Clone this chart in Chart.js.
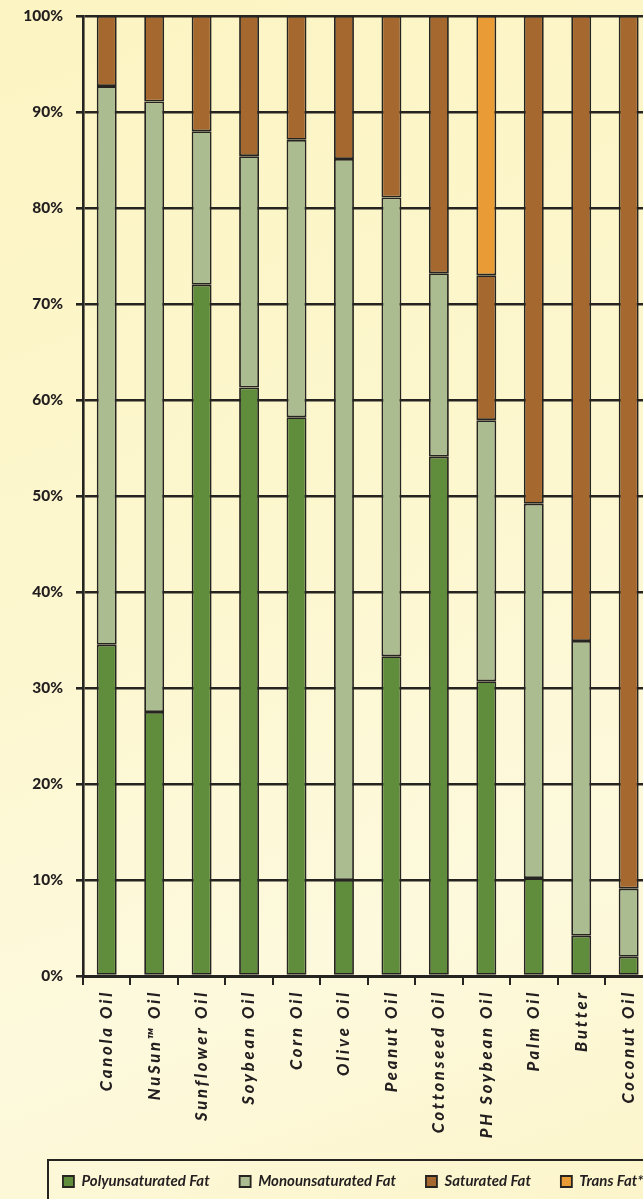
<!DOCTYPE html>
<html>
<head>
<meta charset="utf-8">
<script src="https://cdn.jsdelivr.net/npm/chart.js@4"></script>
<style>
  html, body {
    margin: 0;
    padding: 0;
    width: 643px;
    height: 1199px;
    overflow: hidden;
    background: linear-gradient(160deg, #fcf4c2 0%, #fdf7cf 45%, #fdf9dd 75%, #fcf5cb 100%);
  }
  canvas { display: block; }
</style>
</head>
<body>
<canvas id="fatChart" width="706" height="1199"></canvas>
<script>
// categories and series (percent of total fat)
const oils = ["Canola Oil", "NuSun™ Oil", "Sunflower Oil", "Soybean Oil", "Corn Oil", "Olive Oil",
              "Peanut Oil", "Cottonseed Oil", "PH Soybean Oil", "Palm Oil", "Butter", "Coconut Oil"];
const polyFat  = [34.5, 27.5, 72.0, 61.3, 58.2, 10.0, 33.3, 54.1, 30.7, 10.2, 4.2, 2.0];
const monoFat  = [58.2, 63.6, 16.0, 24.1, 28.9, 75.1, 47.8, 19.1, 27.2, 39.0, 30.7, 7.1];
const satFat   = [7.3, 8.9, 12.0, 14.6, 12.9, 14.9, 18.9, 26.8, 15.1, 50.8, 65.1, 90.9];
const transFat = [null, null, null, null, null, null, null, null, 27.0, null, null, null];
const yTickStep = 10;

const ink = "#262420";
const W = 706;
const plotLeft = 83;
const categoryWidth = 47.45;

// letter spacing only for the category labels
const spacedLabels = {
    id: "spacedLabels",
    beforeDraw(chart) {
        const sx = chart.scales.x;
        if (!sx._spaced) {
            const orig = sx.drawLabels;
            sx.drawLabels = function (area) {
                chart.ctx.letterSpacing = "2.8px";
                orig.call(this, area);
                chart.ctx.letterSpacing = "0px";
            };
            sx._spaced = true;
        }
    }
};

// frame round the legend
const legendFrame = {
    id: "legendFrame",
    afterDraw(chart) {
        const lg = chart.legend;
        const c = chart.ctx;
        c.save();
        c.strokeStyle = ink;
        c.lineWidth = 2;
        c.strokeRect(lg.left + 48, lg.top + 16, lg.width - 96, 100);
        c.restore();
    }
};

const ctx = document.getElementById("fatChart");

new Chart(
    ctx, {
        type: "bar",
        data: {
            labels: oils,
            datasets: [
                { label: "Polyunsaturated Fat", data: polyFat, backgroundColor: "#608d3b" },
                { label: "Monounsaturated Fat", data: monoFat, backgroundColor: "#abbc90" },
                { label: "Saturated Fat", data: satFat, backgroundColor: "#a5682f" },
                { label: "Trans Fat*", data: transFat, backgroundColor: "#e99b35" }
            ].map(d => Object.assign(d, {
                borderColor: ink,
                borderWidth: 1.8,
                borderSkipped: false,
                barPercentage: 0.42,
                categoryPercentage: 1
            }))
        },
        options: {
            responsive: false,
            animation: false,
            layout: { padding: { top: 16, left: 0, right: 0, bottom: 0 } },
            plugins: {
                tooltip: { enabled: false },
                legend: {
                    position: "bottom",
                    labels: {
                        boxWidth: 11,
                        boxHeight: 11,
                        padding: 30,
                        color: "#231f20",
                        font: { family: "Lato", size: 15, weight: "bold", style: "italic" }
                    }
                }
            },
            scales: {
                x: {
                    stacked: true,
                    offset: true,
                    afterFit: s => { s.height = 168; },
                    grid: { drawOnChartArea: false, offset: true, tickLength: 9, color: ink, lineWidth: 2 },
                    border: { color: ink, width: 3 },
                    ticks: {
                        autoSkip: false,
                        minRotation: 90,
                        maxRotation: 90,
                        padding: 5,
                        color: "#231f20",
                        font: { family: "Lato", size: 16.5, weight: "900", style: "italic" }
                    }
                },
                y: {
                    stacked: true,
                    min: 0,
                    max: 100,
                    afterFit: s => {
                        s.width = plotLeft;
                        s.paddingTop = 0;
                        s.paddingBottom = 0;
                    },
                    grid: { color: ink, lineWidth: 2.6, tickLength: 7 },
                    border: { color: ink, width: 2.6 },
                    ticks: {
                        stepSize: yTickStep,
                        padding: 13,
                        color: "#231f20",
                        font: { family: "Lato", size: 15.5, weight: "900" },
                        callback: v => v + "%"
                    }
                },
                spare: {
                    type: "linear",
                    position: "right",
                    afterFit: s => { s.width = W - plotLeft - oils.length * categoryWidth; },
                    grid: { display: false },
                    border: { display: false },
                    ticks: { display: false }
                }
            }
        },
        plugins: [spacedLabels, legendFrame]
    }
);
</script>
</body>
</html>
